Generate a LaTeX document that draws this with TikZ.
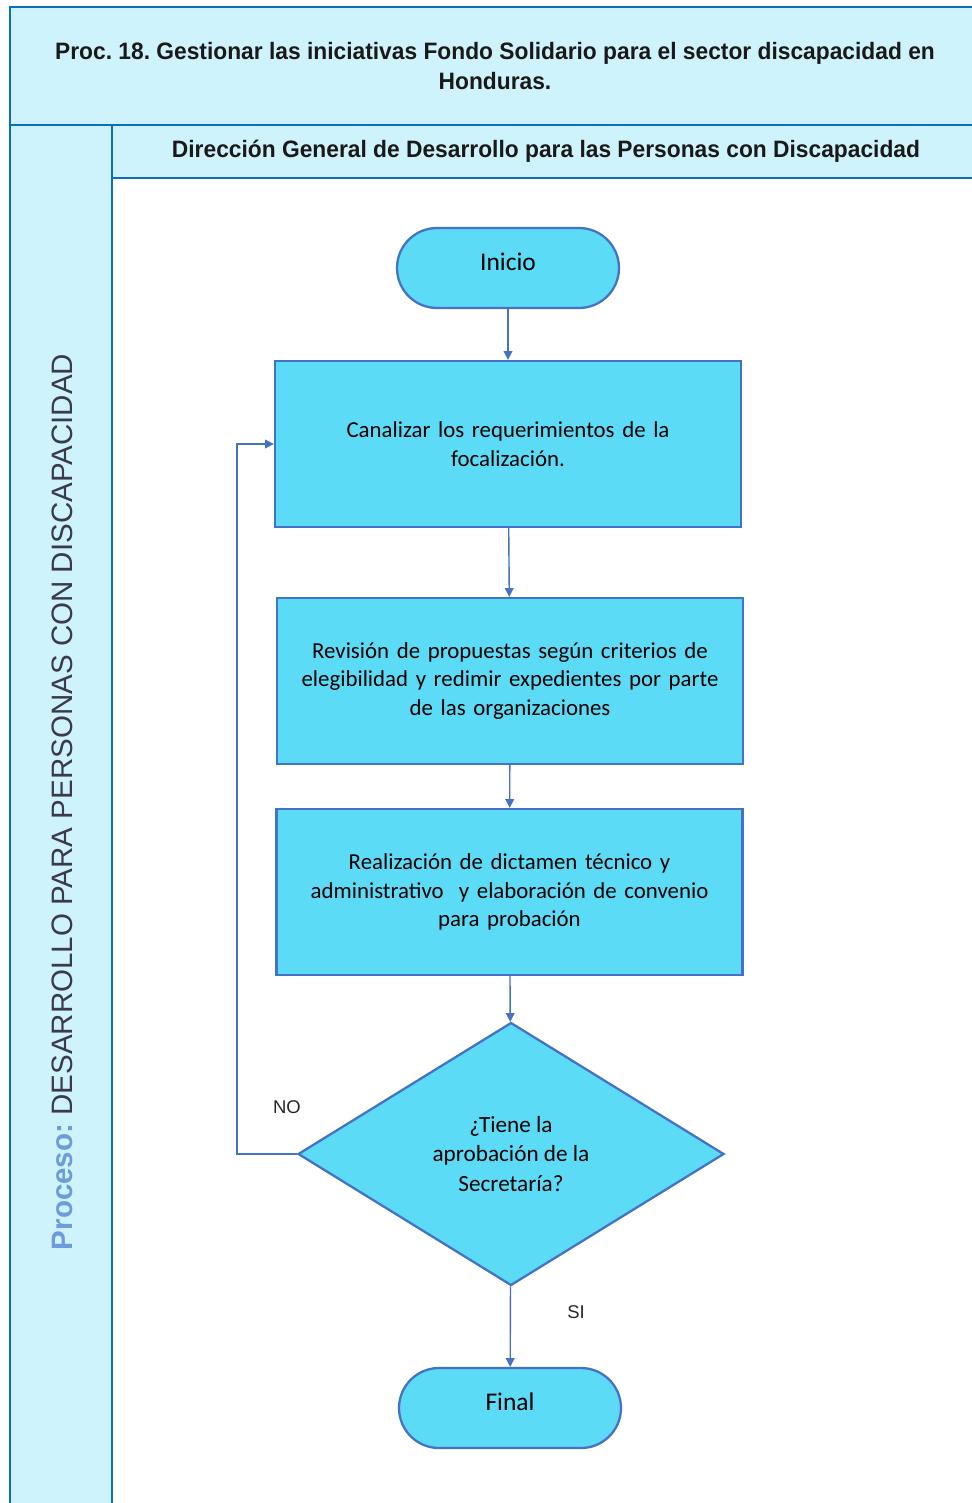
\documentclass[tikz,border=0pt]{standalone}
\usepackage{fontspec}
\setmainfont{Carlito}
\newfontfamily\titlefont[FakeStretch=0.96]{Liberation Sans}
\newfontfamily\arialfont{Liberation Sans}
\usetikzlibrary{shapes.geometric, arrows.meta, positioning}

\definecolor{frameblue}{HTML}{0B6FC1}
\definecolor{lanefill}{HTML}{CFF3FC}
\definecolor{shapefill}{HTML}{5CDBF7}
\definecolor{shapeline}{HTML}{4472C4}
\definecolor{lanelabel}{HTML}{6E9BDB}
\definecolor{lanetext}{HTML}{3A3A4A}

\begin{document}
\frenchspacing
\begin{tikzpicture}[
  frame/.style={draw=frameblue,fill=lanefill,line width=1.6pt},
  term/.style={rectangle,draw=shapeline,fill=shapefill,line width=1.3pt,rounded corners=0.8cm, minimum width=4.44cm,minimum height=1.6cm,text depth=0.24cm,align=center,font=\fontsize{14.5}{17}\selectfont},
  proc/.style={rectangle,draw=shapeline,fill=shapefill,line width=1.3pt, minimum width=9.32cm,minimum height=3.32cm,text width=8.8cm,align=center,font=\fontsize{13}{16.4}\selectfont},
  dec/.style={diamond,draw=shapeline,fill=shapefill,line width=1.3pt, minimum width=8.52cm,minimum height=5.26cm,inner sep=0pt,align=center,font=\fontsize{13.2}{16.8}\selectfont},
  arr/.style={-{Triangle[length=5pt,width=5pt]},draw=shapeline,line width=0.8pt},
  lbl/.style={font=\arialfont\fontsize{10.5}{12}\selectfont,text=black!85}
]
  \useasboundingbox (0,0) rectangle (19.44,-30.06);
  \node[frame,minimum width=19.4cm,minimum height=2.36cm,align=center, font=\titlefont\bfseries\fontsize{13.5}{17}\selectfont,text=black!90](title) at (9.9,-1.32)
    {Proc. 18. Gestionar las iniciativas Fondo Solidario para el sector discapacidad en\\Honduras.};
  \draw[frame](0.2,-2.5) rectangle (2.24,-30.6);
  \node[frame,minimum width=17.36cm,minimum height=1.06cm, font=\titlefont\bfseries\fontsize{13.5}{16}\selectfont,text=black!90](head) at (10.92,-3.03)
    {Dirección General de Desarrollo para las Personas con Discapacidad};
  \node[rotate=90,font=\arialfont\fontsize{16.8}{20}\selectfont](lane) at (1.24,-16.04)
    {\textcolor{lanelabel}{\bfseries Proceso:} \textcolor{lanetext}{DESARROLLO PARA PERSONAS CON DISCAPACIDAD}};

  \node[term](ini) at (10.16,-5.36){Inicio};
  \node[proc](q1) at (10.16,-8.88){Canalizar los requerimientos de la\\focalización.};
  \node[proc](q2) at (10.2,-13.62){Revisión de propuestas según criterios de\\elegibilidad y redimir expedientes por parte\\de las organizaciones};
  \node[proc](q3) at (10.19,-17.84){Realización de dictamen técnico y\\administrativo~ y elaboración de convenio\\para probación};
  \node[dec](d1) at (10.22,-23.08){¿Tiene la\\aprobación de la\\Secretaría?};
  \node[term](fin) at (10.2,-28.16){Final};

  \draw[arr](ini)--(q1); \draw[arr](q1)--(q2); \draw[arr](q2)--(q3); \draw[arr](q3)--(d1);
  \draw[arr](d1)--(fin);
  \draw[arr](d1.west) -- ++(-1.2,0) |- (q1.west);
  \node[lbl](no) at (5.74,-22.14){NO};
  \node[lbl](si) at (11.52,-26.24){SI};
\end{tikzpicture}
\end{document}
